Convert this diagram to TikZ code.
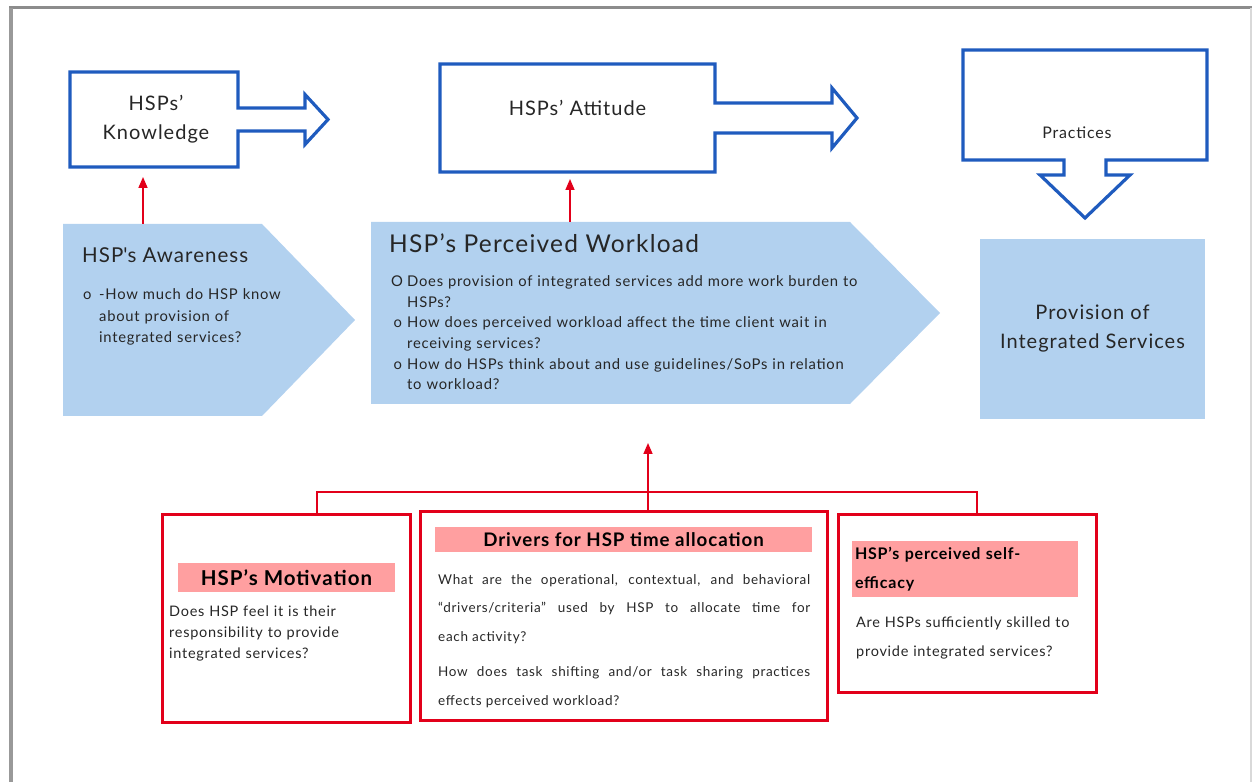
\documentclass[tikz,border=0pt]{standalone}
\usepackage{fontspec}
\setmainfont{Lato}[LetterSpace=5]
\usetikzlibrary{arrows.meta, positioning}

\definecolor{hspblue}{HTML}{1F5BBE}
\definecolor{paleblue}{HTML}{B2D1EF}
\definecolor{hspred}{HTML}{E2001A}
\definecolor{bandpink}{HTML}{FF9FA0}
\definecolor{inkgray}{HTML}{262626}

\newcommand\qitem[1]{\par\hangindent=16pt\hangafter=1\noindent\makebox[16pt][l]{#1}}

\begin{document}
\begin{tikzpicture}[
    x=1pt, y=1pt,
    callbox/.style={minimum width=#1, inner sep=0pt, outer sep=0pt},
    callout/.style={draw=hspblue, line width=3.2pt, line join=miter},
    calltext/.style={font=\fontsize{20}{29}\selectfont, align=center, text=inkgray},
    wedge/.style={inner sep=0pt, outer sep=0pt},
    title/.style={font=\fontsize{20.5}{25}\selectfont, text=inkgray, inner sep=0pt},
    qtext/.style={font=\fontsize{14.8}{20.6}\selectfont, text=inkgray, align=left, inner sep=0pt},
    redbox/.style={draw=hspred, line width=3pt, inner sep=0pt},
    band/.style={fill=bandpink, inner sep=0pt, text=black, font=\bfseries},
    body/.style={font=\fontsize{14.5}{21}\selectfont, text=inkgray, align=left, inner sep=0pt},
    redline/.style={draw=hspred, line width=1.6pt},
    redarrow/.style={-{Triangle[length=11pt, width=9pt]}, draw=hspred, fill=hspred, line width=1.6pt}
]
\useasboundingbox (0,0) rectangle (1253,782);

% page edge
\draw[black!45, line width=3pt] (9,774) -- (1252,774);
\draw[black!40, line width=4pt] (11,774) -- (11,0);
\draw[black!15, line width=2pt] (1251,774) -- (1251,0);

% attitude chain (blue callouts)
\node[callbox=168, minimum height=95] (know) at (154,662.5) {};
\node[calltext] (knowtext) at ([xshift=2]know.center) {HSPs’\\Knowledge};
\draw[callout] (know.north west) -- (know.north east) -- ([yshift=11.5]know.east) -- ++(67,0)
    -- ++(0,13.5) -- ++(23,-25) -- ++(-23,-25) -- ++(0,13.5) -- ([yshift=-11.5]know.east)
    -- (know.south east) -- (know.south west) -- cycle;

\node[callbox=275, minimum height=108] (att) at (577.5,664) {};
\node[calltext] (atttext) at ([yshift=10]att.center) {HSPs’ Attitude};
\draw[callout] (att.north west) -- (att.north east) -- ([yshift=15]att.east) -- ++(117,0)
    -- ++(0,15) -- ++(25,-30) -- ++(-25,-30) -- ++(0,15) -- ([yshift=-15]att.east)
    -- (att.south east) -- (att.south west) -- cycle;

\node[callbox=244, minimum height=110] (prac) at (1085,677) {};
\node[calltext, font=\fontsize{16}{18}\selectfont] (practext) at (1077,649) {Practices};
\draw[callout] (prac.north west) -- (prac.north east) -- (prac.south east) -- ([xshift=21]prac.south)
    -- ++(0,-15) -- ++(24,0) -- ++(-45,-43) -- ++(-45,43) -- ++(24,0) -- ([xshift=-21]prac.south)
    -- (prac.south west) -- cycle;

% blue pentagons
\node[wedge, minimum width=199, minimum height=192, anchor=north west] (aware) at (63,558) {};
\fill[paleblue] (aware.north west) -- (aware.north east) -- ++(93,-96) -- (aware.south east)
    -- (aware.south west) -- cycle;
\node[title, anchor=west] (awaretitle) at (82,527) {HSP\textquotesingle s Awareness};
\node[qtext, font=\fontsize{14.8}{21.5}\selectfont, anchor=north west, text width=250] (awareq) at (83,504)
    {\qitem{o}-How much do HSP know\break about provision of\break integrated services?\par};

\node[wedge, minimum width=479, minimum height=182, anchor=north west] (work) at (371,560) {};
\fill[paleblue] (work.north west) -- (work.north east) -- ++(90,-91) -- (work.south east)
    -- (work.south west) -- cycle;
\node[title, font=\fontsize{24.5}{28}\selectfont, anchor=west] (worktitle) at (389,539) {HSP’s Perceived Workload};
\node[qtext, anchor=north west, text width=540] (workq) at (391,516)
    {\qitem{O}Does provision of integrated services add more work burden to\break HSPs?
     \qitem{\,o}How does perceived workload affect the time client wait in\break receiving services?
     \qitem{\,o}How do HSPs think about and use guidelines/SoPs in relation\break to workload?\par};

\node[fill=paleblue, minimum width=225, minimum height=180, calltext] (prov) at (1092.5,453)
    {Provision of\\Integrated Services};

% red links up
\draw[redarrow, shorten >=10] ([xshift=-19.5]aware.north) -- ([xshift=-11]know.south);
\draw[redarrow, shorten >=7] ([xshift=-40.5]work.north) -- ([xshift=-7.5]att.south);

% red boxes
\node[redbox, minimum width=248, minimum height=207] (motiv) at (286,163.5) {};
\node[redbox, minimum width=407, minimum height=208] (drivers) at (623.5,166) {};
\node[redbox, minimum width=258, minimum height=178] (effic) at (967,178) {};

\node[band, minimum width=217, minimum height=29, font=\bfseries\fontsize{20.5}{22}\selectfont] (motivband) at (286.5,204.5) {HSP’s Motivation};
\node[body, anchor=north west, text width=235] (motivq) at (169,176)
    {Does HSP feel it is their\\responsibility to provide\\integrated services?};

\node[band, minimum width=377, minimum height=25, font=\bfseries\fontsize{18.7}{20}\selectfont] (drivband) at (623.5,242.5) {Drivers for HSP time allocation};
\node[body, anchor=north west, text width=372, align=justify, font=\fontsize{13.5}{28.5}\selectfont] (drivq) at (438,208)
    {What are the operational, contextual, and behavioral\linebreak
     “drivers/criteria” used by HSP to allocate time for\linebreak each activity?\par
     \vspace{7pt}How does task shifting and/or task sharing practices\linebreak effects perceived workload?};

\node[band, minimum width=226, minimum height=56, text width=220, align=left, font=\bfseries\fontsize{16}{29}\selectfont] (efficband) at (965,213)
    {HSP’s perceived self-\\efficacy};
\node[body, anchor=north west, text width=235, font=\fontsize{14.5}{29}\selectfont] (efficq) at (856,165)
    {Are HSPs sufficiently skilled to\\provide integrated services?};

% red links down
\draw[redline] ([xshift=31]motiv.north) |- (800,290) -| ([xshift=10]effic.north);
\draw[redarrow, shorten >=39] ([xshift=24.5]drivers.north) -- ([xshift=37.5]work.south);

\end{tikzpicture}
\end{document}
